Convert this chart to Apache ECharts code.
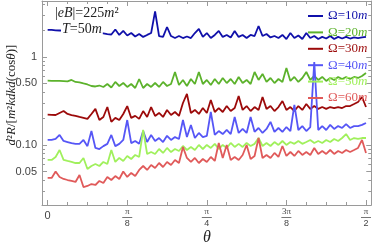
<!DOCTYPE html>
<html><head><meta charset="utf-8">
<script src="https://cdn.jsdelivr.net/npm/echarts@6/dist/echarts.min.js"></script>
<style>html,body{margin:0;padding:0;background:#fff}#c{width:374px;height:246px}</style>
</head><body><div id="c"></div>
<script>
const seriesNames = ['Ω=10m','Ω=20m','Ω=30m','Ω=40m','Ω=50m','Ω=60m'];
const seriesColors = ['#1010aa','#5cb22c','#9c0a0a','#5656f6','#a0f05c','#e05a5a'];
const omega10 = [2.03,2.03,2.01,2.0,1.99,1.975,1.975,1.965,1.96,1.95,1.94,1.92,1.90,1.87,1.85,1.82,1.80,2.05,1.78,1.975,1.755,1.87,1.71,1.825,1.69,1.78,1.87,3.3,1.73,1.69,2.19,1.73,1.64,1.73,1.64,1.71,1.64,1.87,2.08,1.69,1.87,1.64,1.78,1.975,1.69,1.78,1.666,1.975,1.69,1.78,1.64,1.78,1.73,2.25,1.73,1.825,1.666,1.73,1.64,1.78,1.60,1.87,1.64,1.755,1.60,1.87,1.64,1.73,1.60,1.69,1.62,1.73,1.60,1.69,1.62,1.69,1.62,1.666,1.64,1.666,1.69];
const omega20 = [0.538,0.536,0.534,0.534,0.531,0.527,0.548,0.520,0.514,0.500,0.487,0.468,0.462,0.474,0.456,0.493,0.450,0.520,0.468,0.506,0.456,0.493,0.444,0.562,0.444,0.493,0.456,0.506,0.456,0.520,0.468,0.493,0.675,0.481,0.548,0.468,0.562,0.493,0.675,0.493,0.548,0.481,0.562,0.493,0.577,0.506,0.562,0.493,0.593,0.506,0.548,0.493,0.675,0.548,0.641,0.520,0.577,0.506,0.562,0.520,0.750,0.534,0.593,0.520,0.577,0.675,0.548,0.608,0.548,0.593,0.534,0.577,0.548,0.593,0.562,0.593,0.562,0.593,0.577,0.608,0.658];
const omega30 = [0.221,0.220,0.219,0.231,0.243,0.225,0.219,0.214,0.208,0.203,0.198,0.225,0.257,0.192,0.208,0.270,0.183,0.203,0.192,0.225,0.277,0.203,0.214,0.198,0.243,0.208,0.270,0.214,0.231,0.208,0.250,0.219,0.237,0.214,0.300,0.380,0.231,0.250,0.225,0.263,0.231,0.325,0.237,0.263,0.237,0.277,0.243,0.263,0.360,0.250,0.277,0.243,0.270,0.250,0.351,0.257,0.277,0.243,0.270,0.316,0.250,0.270,0.243,0.277,0.250,0.292,0.257,0.277,0.257,0.270,0.257,0.270,0.263,0.270,0.263,0.277,0.277,0.292,0.308,0.351,0.270];
const omega40 = [0.114,0.114,0.117,0.130,0.111,0.108,0.105,0.103,0.103,0.114,0.097,0.144,0.0925,0.090,0.097,0.103,0.130,0.097,0.103,0.114,0.192,0.105,0.111,0.103,0.144,0.108,0.130,0.111,0.120,0.108,0.127,0.114,0.123,0.117,0.192,0.123,0.169,0.120,0.137,0.123,0.127,0.237,0.130,0.144,0.133,0.148,0.133,0.208,0.137,0.152,0.137,0.208,0.141,0.156,0.137,0.152,0.183,0.141,0.156,0.141,0.160,0.144,0.285,0.148,0.164,0.144,0.160,0.877,0.148,0.164,0.148,0.169,0.152,0.164,0.156,0.173,0.156,0.164,0.164,0.169,0.178];
const omega50 = [0.0676,0.0676,0.0731,0.0877,0.0676,0.0658,0.0641,0.0624,0.0624,0.0712,0.0534,0.0577,0.0608,0.0577,0.0641,0.0608,0.0877,0.0641,0.0712,0.0658,0.075,0.0693,0.077,0.0731,0.148,0.079,0.0832,0.079,0.090,0.0811,0.0925,0.0832,0.090,0.0855,0.0974,0.0877,0.0949,0.0877,0.100,0.090,0.100,0.0925,0.103,0.090,0.100,0.0925,0.1054,0.0949,0.103,0.0949,0.1054,0.0974,0.103,0.120,0.0974,0.1054,0.0974,0.108,0.100,0.111,0.100,0.108,0.103,0.111,0.103,0.108,0.114,0.1054,0.111,0.1054,0.114,0.108,0.117,0.111,0.120,0.133,0.114,0.120,0.117,0.120,0.120];
const omega60 = [0.0422,0.0422,0.050,0.0433,0.0411,0.040,0.039,0.038,0.0456,0.0333,0.0342,0.036,0.0351,0.039,0.037,0.0433,0.040,0.0444,0.0411,0.050,0.0433,0.0481,0.0444,0.052,0.0577,0.052,0.0593,0.0548,0.0624,0.0562,0.0641,0.0593,0.0676,0.0624,0.0949,0.0712,0.0641,0.0712,0.0624,0.0693,0.0641,0.0731,0.0658,0.1054,0.0712,0.100,0.0676,0.0731,0.0676,0.077,0.100,0.0693,0.075,0.120,0.0712,0.077,0.0712,0.0811,0.0731,0.0974,0.075,0.0832,0.075,0.0855,0.077,0.0832,0.077,0.0925,0.079,0.0855,0.079,0.0877,0.079,0.0855,0.0811,0.0877,0.0832,0.0877,0.0925,0.114,0.0811];
const thetaStep = Math.PI / 160;
const xTickValues = [0, Math.PI / 8, Math.PI / 4, 3 * Math.PI / 8, Math.PI / 2];
const xTickLabels = ['0', 'π/8', 'π/4', '3π/8', 'π/2'];
const xMinorValues = [1,2,3,5,6,7,9,10,11,13,14,15].map(k => k * Math.PI / 32);
const yTickValues = [0.05, 0.1, 0.5, 1];
const yTickLabels = ['0.05', '0.10', '0.50', '1'];
const yMinorValues = [0.03,0.04,0.06,0.07,0.08,0.09,0.2,0.3,0.4,0.6,0.7,0.8,0.9,2,3,4];

const allSeries = [omega10, omega20, omega30, omega40, omega50, omega60];
const X_MIN = -0.0279, X_MAX = 1.5968;
const Y_MIN = -1.682, Y_MAX = 0.636;
const AX = '#9a9a9a';
const serif = '"Liberation Serif","DejaVu Serif",serif';
const sans = '"Liberation Sans","DejaVu Sans",sans-serif';

function xAxisDef(pos, major, showLabel) {
  return {
    type: 'value', position: pos, min: X_MIN, max: X_MAX, gridIndex: 0,
    splitLine: {show: false},
    axisLine: {show: major, onZero: false, lineStyle: {color: AX, width: 1}},
    axisTick: {show: true, inside: true, length: major ? 5 : 3, lineStyle: {color: AX},
      customValues: major ? xTickValues : xMinorValues},
    axisLabel: {show: showLabel, customValues: xTickValues, margin: 2,
      formatter: v => {
        let k = 0, best = 1e9;
        xTickValues.forEach((t, i) => { if (Math.abs(t - v) < best) { best = Math.abs(t - v); k = i; } });
        const s = xTickLabels[k];
        if (s.indexOf('/') < 0) return '{z|' + s + '}';
        const p = s.split('/');
        return '{n|' + p[0] + '}\n{b| }\n{d|' + p[1] + '}';
      },
      rich: {
        z: {fontSize: 11, fontFamily: sans, color: '#444', padding: [3, 0, 0, 0]},
        n: {fontSize: 9, lineHeight: 9, fontFamily: serif, color: '#444', align: 'center'},
        b: {fontSize: 1, lineHeight: 3, height: 1, width: 10, backgroundColor: '#777', align: 'center'},
        d: {fontSize: 9, lineHeight: 10, fontFamily: sans, color: '#444', align: 'center'}
      }
    }
  };
}
function yAxisDef(pos, major, showLabel) {
  return {
    type: 'value', position: pos, min: Y_MIN, max: Y_MAX, gridIndex: 0,
    splitLine: {show: false},
    axisLine: {show: major, onZero: false, lineStyle: {color: AX, width: 1}},
    axisTick: {show: true, inside: true, length: major ? 5 : 3, lineStyle: {color: AX},
      customValues: (major ? yTickValues : yMinorValues).map(Math.log10)},
    axisLabel: {show: showLabel, customValues: yTickValues.map(Math.log10), margin: 5,
      fontSize: 11, fontFamily: sans, color: '#444',
      formatter: v => {
        let k = 0, best = 1e9;
        yTickValues.forEach((t, i) => { const d = Math.abs(Math.log10(t) - v); if (d < best) { best = d; k = i; } });
        return yTickLabels[k];
      }
    }
  };
}

const chart = echarts.init(document.getElementById('c'), null, {renderer: 'canvas'});
chart.setOption({
  animation: false,
  backgroundColor: '#fff',
  grid: {left: 42, right: 1, top: 1, bottom: 41, containLabel: false},
  xAxis: [xAxisDef('bottom', true, true), xAxisDef('bottom', false, false), xAxisDef('top', true, false), xAxisDef('top', false, false)],
  yAxis: [yAxisDef('left', true, true), yAxisDef('left', false, false), yAxisDef('right', true, false), yAxisDef('right', false, false)],
  legend: {
    orient: 'vertical', left: 303, top: 4, itemWidth: 15, itemHeight: 2, itemGap: 2.4,
    icon: 'rect', selectedMode: false,
    textStyle: {fontFamily: serif, fontSize: 13, lineHeight: 14,
      rich: {i: {fontStyle: 'italic', fontFamily: serif, fontSize: 13}}},
    formatter: name => name.replace(/m$/, '{i|m}'),
    data: seriesNames.map((n, i) => ({name: n, textStyle: {color: seriesColors[i], rich: {i: {color: seriesColors[i], fontStyle: 'italic', fontFamily: serif, fontSize: 13}}}}))
  },
  graphic: [
    {type: 'text', left: 55, top: 6, z: 100,
      style: {text: '|{i|eB}|=225{i|m}²', fontFamily: serif, fontSize: 14, fill: '#222',
        rich: {i: {fontStyle: 'italic', fontFamily: serif, fontSize: 14, fill: '#222'}}}},
    {type: 'text', left: 61, top: 22, z: 100,
      style: {text: '{i|T}=50{i|m}', fontFamily: serif, fontSize: 14, fill: '#222', backgroundColor: '#fff', padding: [0, 1, 0, 1],
        rich: {i: {fontStyle: 'italic', fontFamily: serif, fontSize: 14, fill: '#222'}}}},
    {type: 'text', x: 12, y: 95, rotation: Math.PI / 2, z: 100,
      style: {text: '{i|d}²{i|R}/[{i|m}²{i|kdkd}(cos{i|θ})]', fontFamily: serif, fontSize: 13, fill: '#222', align: 'center', verticalAlign: 'middle',
        rich: {i: {fontStyle: 'italic', fontFamily: serif, fontSize: 13, fill: '#222'}}}},
    {type: 'text', x: 207, y: 238, z: 100,
      style: {text: 'θ', fontFamily: serif, fontStyle: 'italic', fontSize: 16, fill: '#222', align: 'center', verticalAlign: 'middle'}}
  ],
  series: allSeries.map((arr, s) => ({
    type: 'line', name: seriesNames[s], xAxisIndex: 0, yAxisIndex: 0,
    showSymbol: false, symbol: 'none', color: seriesColors[s],
    lineStyle: {width: 1.8, color: seriesColors[s]},
    data: arr.map((v, i) => [i * thetaStep, Math.log10(v)])
  }))
});
</script></body></html>
